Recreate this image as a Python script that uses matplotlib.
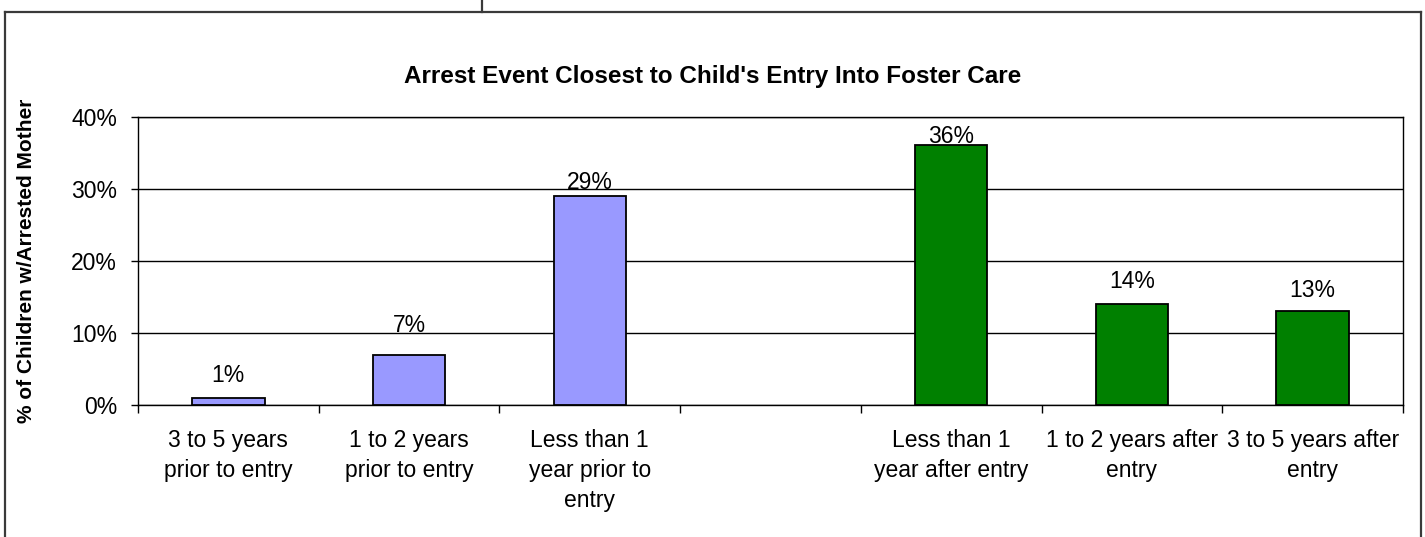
import matplotlib
matplotlib.use("Agg")
import matplotlib.pyplot as plt
from matplotlib.lines import Line2D
from matplotlib.ticker import FuncFormatter, FixedLocator
import numpy as np

plt.rcParams['font.family'] = ['Liberation Sans', 'DejaVu Sans']

# Chart data
categories = ["3 to 5 years\nprior to entry", "1 to 2 years\nprior to entry",
              "Less than 1\nyear prior to\nentry", "",
              "Less than 1\nyear after entry", "1 to 2 years after\nentry",
              "3 to 5 years after\nentry"]
before_pos = [0, 1, 2]
before_vals = [1, 7, 29]
after_pos = [4, 5, 6]
after_vals = [36, 14, 13]
y_ticks = [0, 10, 20, 30, 40]

# Label gaps above bar tops (points)
before_gaps = [11.5, 16, 5]
after_gaps = [2, 11.5, 10]

W, H = 1425, 537
fig = plt.figure(figsize=(W / 100, H / 100), dpi=100)
fig.patch.set_facecolor("white")

left, right, top, bottom = 138, 1403, 116.5, 405
ax = fig.add_axes([left / W, (H - bottom) / H, (right - left) / W, (bottom - top) / H])

FS = 16.5
bw = 0.4
ax.bar(before_pos, before_vals, width=bw, color="#9999FF", edgecolor="black",
       linewidth=1.3, zorder=3)
ax.bar(after_pos, after_vals, width=bw, color="#008000", edgecolor="black",
       linewidth=1.3, zorder=3)

for p, v, g in zip(before_pos + after_pos, before_vals + after_vals, before_gaps + after_gaps):
    ax.annotate(f"{v}%", (p, v), xytext=(0, g), textcoords="offset points",
                ha="center", va="baseline", fontsize=FS, color="black")

ax.set_xlim(-0.5, 6.5)
ax.set_ylim(0, 40)
ax.yaxis.set_major_locator(FixedLocator(y_ticks))
ax.yaxis.set_major_formatter(FuncFormatter(lambda v, _: f"{v:.0f}%"))
ax.grid(axis="y", color="black", linewidth=1.0, zorder=0)

# category boundaries carry the tick marks; centres carry the labels
ax.set_xticks(np.arange(-0.5, 7.0, 1.0))
ax.set_xticklabels([])
ax.set_xticks(np.arange(len(categories)), minor=True)
ax.set_xticklabels(categories, minor=True, fontsize=FS, linespacing=1.4)
ax.tick_params(axis="x", which="major", direction="out", length=6, width=1, color="black")
ax.tick_params(axis="x", which="minor", length=0, pad=17)
ax.tick_params(axis="y", direction="out", length=5, width=1, labelsize=FS, pad=10)

for s in ax.spines.values():
    s.set_color("black")
    s.set_linewidth(1.0)

ax.set_ylabel("% of Children w/Arrested Mother", fontsize=15, fontweight="bold")
ax.yaxis.set_label_coords(-0.081, 0.5)

fig.text(0.5, (H - 77) / H, "Arrest Event Closest to Child's Entry Into Foster Care",
         ha="center", va="center", fontsize=17.5, fontweight="bold")

# surrounding frame
frame_col = "#3a3a3a"
def px_line(xs, ys, lw=1.6):
    fig.add_artist(Line2D([x / W for x in xs], [(H - y) / H for y in ys],
                          color=frame_col, linewidth=lw, transform=fig.transFigure))

px_line([4.5, 1420.5], [12, 12])
px_line([4.5, 4.5], [12, H + 2])
px_line([1420.5, 1420.5], [12, H + 2])
px_line([482, 482], [-2, 12])

fig.savefig("out.png", dpi=100, facecolor="white")
